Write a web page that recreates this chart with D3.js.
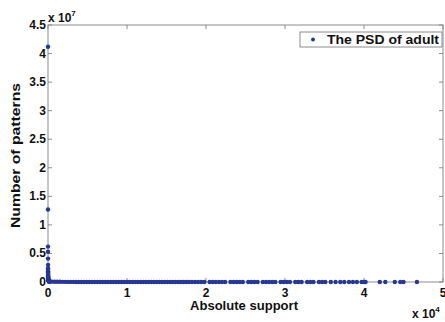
<!DOCTYPE html>
<html>
<head>
<meta charset="utf-8">
<script src="https://cdn.jsdelivr.net/npm/d3@7"></script>
<style>
  body { margin: 0; background: #fff; }
  text { font-family: "Liberation Sans", Arial, sans-serif; font-weight: bold; fill: #111; }
</style>
</head>
<body>
<svg id="chart" width="445" height="322"></svg>
<script>
// x: absolute support, y: number of patterns (raw values)
const xTicks = [0, 10000, 20000, 30000, 40000, 50000];
const yTicks = [0, 0.5e7, 1e7, 1.5e7, 2e7, 2.5e7, 3e7, 3.5e7, 4e7, 4.5e7];
const seriesName = "The PSD of adult";

// low support, huge counts (the vertical cluster at x ~ 0)
const headPoints = [
  [1, 4.12e7], [2, 1.27e7], [3, 0.62e7], [4, 0.53e7], [5, 0.41e7], [6, 0.30e7],
  [7, 0.24e7], [8, 0.21e7], [9, 0.19e7], [10, 0.17e7], [12, 0.15e7], [14, 0.13e7],
  [16, 0.115e7], [18, 0.10e7], [20, 0.09e7], [23, 0.08e7], [26, 0.07e7], [30, 0.06e7],
  [35, 0.05e7], [40, 0.045e7], [46, 0.04e7], [53, 0.035e7], [60, 0.03e7], [70, 0.025e7],
  [80, 0.02e7], [95, 0.016e7], [110, 0.012e7], [130, 0.009e7], [150, 0.006e7], [180, 0.003e7]
];

// long tail along the x axis, counts nearly zero
const tailPoints = [
  [300, 98000], [480, 71000], [820, 52000], [1150, 40000], [1500, 33000], [1840, 27000],
  [2170, 22000], [2510, 19000], [2860, 16000], [3190, 14000], [3530, 12000], [3880, 10500],
  [4210, 9400], [4560, 8300], [4890, 7500], [5240, 6800], [5580, 6100], [5910, 5600],
  [6260, 5100], [6600, 4700], [6930, 4300], [7280, 4000], [7610, 3700], [7960, 3400],
  [8300, 3100], [8640, 2900], [8970, 2700], [9320, 2500], [9650, 2300], [10000, 2200],
  [10340, 2000], [10690, 1900], [11020, 1800], [11370, 1700], [11700, 1600], [12050, 1500],
  [12390, 1400], [12720, 1300], [13070, 1250], [13410, 1150], [13740, 1100], [14090, 1000],
  [14430, 960], [14760, 900], [15110, 850], [15450, 800], [15790, 760], [16120, 720],
  [16470, 680], [16810, 640], [17140, 600], [17490, 570], [17830, 540], [18220, 510],
  [18610, 480], [19000, 450], [19400, 430], [19790, 400], [20460, 380], [20850, 360],
  [21240, 340], [21640, 320], [22030, 300], [22420, 280], [23100, 260], [23490, 250],
  [23880, 240], [24270, 220], [24660, 210], [25350, 200], [25740, 190], [26130, 180],
  [26530, 170], [27200, 160], [27600, 150], [27990, 140], [28380, 130], [28770, 120],
  [29450, 110], [29840, 100], [30230, 95], [30620, 90], [31300, 80], [31690, 75],
  [32100, 70], [32800, 62], [33200, 55], [33600, 50], [34300, 44], [34700, 40],
  [35100, 36], [35800, 30], [36400, 26], [37000, 22], [37500, 18], [38100, 15],
  [38600, 12], [39100, 10], [39700, 8], [40000, 7], [40200, 6], [42000, 5],
  [42700, 4], [43900, 3], [44600, 2], [45000, 2], [46700, 1]
];

const svg = d3.select("#chart");
const margin = { left: 48, right: 2, top: 25, bottom: 40 };
const width = 445 - margin.left - margin.right;
const height = 322 - margin.top - margin.bottom;
const axisColor = "#8c8c8c";
const dotColor = "#283791";

const x = d3.scaleLinear().domain([0, 50000]).range([0, width]);
const y = d3.scaleLinear().domain([0, 4.5e7]).range([height, 0]);

const g = svg.append("g").attr("transform", `translate(${margin.left},${margin.top})`);

// box
g.append("rect")
  .attr("width", width).attr("height", height)
  .attr("fill", "none").attr("stroke", axisColor).attr("stroke-width", 1);

// ticks inside on all four sides
const tickLen = 4;
g.selectAll(".xt").data(xTicks).enter().append("path")
  .attr("d", d => `M${x(d)},${height}v${-tickLen}M${x(d)},0v${tickLen}`)
  .attr("stroke", axisColor);
g.selectAll(".yt").data(yTicks).enter().append("path")
  .attr("d", d => `M0,${y(d)}h${tickLen}M${width},${y(d)}h${-tickLen}`)
  .attr("stroke", axisColor);

// tick labels
g.selectAll(".xl").data(xTicks).enter().append("text")
  .attr("x", d => x(d)).attr("y", height + 15)
  .attr("text-anchor", "middle").attr("font-size", 12)
  .text(d => d / 10000);
g.selectAll(".yl").data(yTicks).enter().append("text")
  .attr("x", -2).attr("y", d => y(d) + 4)
  .attr("text-anchor", "end").attr("font-size", 12)
  .text(d => d / 1e7);

// exponent labels
const e7 = g.append("text").attr("x", 0).attr("y", -3).attr("font-size", 12);
e7.append("tspan").text("x 10");
e7.append("tspan").attr("dy", -6).attr("font-size", 8).text("7");
const e4 = g.append("text").attr("x", width - 31).attr("y", height + 36).attr("font-size", 12);
e4.append("tspan").text("x 10");
e4.append("tspan").attr("dy", -6).attr("font-size", 8).text("4");

// axis titles
g.append("text")
  .attr("x", 196).attr("y", height + 28)
  .attr("text-anchor", "middle").attr("font-size", 12)
  .attr("textLength", 108).attr("lengthAdjust", "spacingAndGlyphs")
  .text("Absolute support");
g.append("text")
  .attr("transform", `translate(-28,${height / 2 + 2}) rotate(-90)`)
  .attr("text-anchor", "middle").attr("font-size", 12)
  .attr("textLength", 145).attr("lengthAdjust", "spacingAndGlyphs")
  .text("Number of patterns");

// points
const allPoints = headPoints.concat(tailPoints);
g.selectAll(".dot").data(allPoints).enter().append("circle")
  .attr("class", "dot")
  .attr("cx", d => x(d[0]))
  .attr("cy", d => y(d[1]))
  .attr("r", 2.2)
  .attr("fill", dotColor);

// legend
const lg = svg.append("g").attr("transform", "translate(300,32)");
lg.append("rect").attr("width", 142).attr("height", 15)
  .attr("fill", "#fff").attr("stroke", axisColor);
lg.append("circle").attr("cx", 13).attr("cy", 7.5).attr("r", 1.9).attr("fill", dotColor);
lg.append("text").attr("x", 27).attr("y", 12).attr("font-size", 12)
  .attr("textLength", 112).attr("lengthAdjust", "spacingAndGlyphs")
  .text(seriesName);
</script>
</body>
</html>
